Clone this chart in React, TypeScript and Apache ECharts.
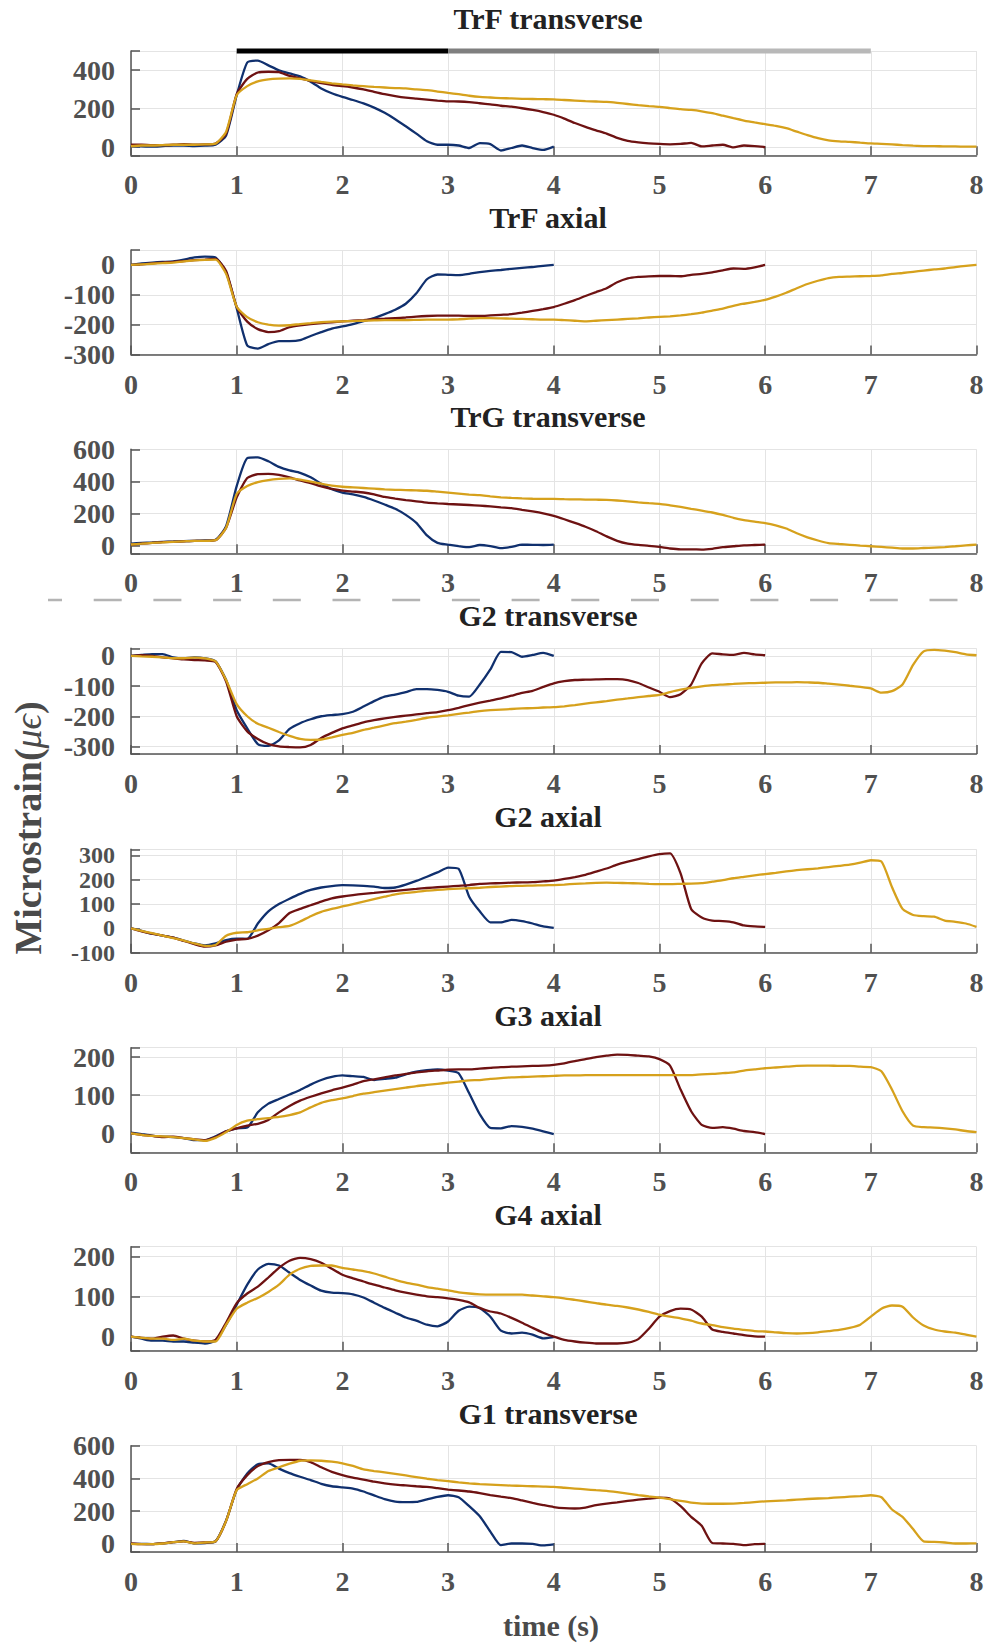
import React, { useEffect, useRef } from "react";
import * as echarts from "echarts";

// ---------- data (sampled every 0.1 s) ----------
const T_STEP = 0.1;

const trfTransBlue = [8, 3, 2, 5, 8, 8, 5, 7, 12, 60, 270, 440, 450, 425, 400, 383, 368, 340, 305, 280, 261, 245, 227, 205, 178, 145, 108, 70, 30, 12, 12, 8, -5, 20, 15, -18, -5, 8, -5, -15, 2];
const trfTransRed = [12, 12, 10, 10, 12, 15, 12, 14, 18, 70, 275, 355, 388, 392, 390, 370, 358, 345, 333, 324, 317, 310, 300, 287, 275, 265, 257, 252, 247, 242, 238, 237, 234, 228, 222, 215, 210, 202, 193, 182, 168, 148, 125, 105, 87, 70, 48, 32, 24, 19, 16, 14, 16, 22, 3, 8, 12, -2, 8, 5, 0];
const trfTransGold = [5, 8, 8, 10, 12, 12, 12, 14, 18, 80, 270, 317, 342, 352, 356, 357, 355, 347, 339, 332, 326, 321, 317, 313, 310, 307, 305, 300, 296, 289, 282, 275, 267, 261, 258, 255, 253, 251, 250, 249, 248, 245, 242, 239, 237, 235, 230, 224, 218, 213, 209, 203, 197, 193, 186, 176, 163, 150, 138, 128, 119, 110, 98, 80, 62, 46, 35, 30, 27, 23, 19, 17, 14, 10, 7, 5, 5, 3, 3, 2, 2];

const trfAxBlue = [0, 5, 8, 10, 12, 18, 25, 28, 25, -25, -145, -270, -280, -265, -255, -255, -252, -238, -225, -213, -206, -198, -188, -178, -165, -150, -130, -95, -48, -32, -33, -34, -30, -24, -20, -17, -13, -10, -7, -3, 0];
const trfAxRed = [0, 2, 5, 8, 10, 13, 16, 18, 20, -20, -140, -190, -215, -225, -222, -208, -202, -198, -195, -192, -189, -187, -185, -182, -180, -178, -176, -173, -171, -170, -170, -170, -171, -171, -169, -167, -165, -160, -154, -148, -141, -130, -118, -104, -91, -78, -58, -45, -40, -38, -37, -37, -38, -33, -30, -25, -18, -12, -13, -8, 0];
const trfAxGold = [0, 2, 4, 6, 8, 12, 15, 17, 18, -30, -140, -175, -192, -200, -203, -202, -198, -195, -192, -190, -189, -188, -187, -186, -185, -185, -185, -184, -183, -183, -183, -182, -180, -178, -178, -179, -180, -181, -182, -183, -183, -185, -187, -189, -187, -185, -183, -181, -179, -176, -174, -172, -169, -165, -160, -153, -146, -137, -130, -124, -117, -106, -93, -78, -64, -53, -44, -40, -39, -38, -37, -35, -30, -27, -23, -19, -15, -12, -7, -3, 0];

const trgBlue = [10, 15, 18, 22, 24, 26, 28, 30, 35, 120, 370, 545, 550, 525, 490, 468, 453, 425, 385, 350, 329, 318, 302, 280, 255, 228, 190, 140, 62, 15, 4, -5, -12, 2, -5, -18, -10, 4, 3, 2, 4];
const trgRed = [5, 10, 15, 20, 22, 25, 28, 28, 32, 110, 300, 420, 445, 447, 440, 425, 405, 388, 368, 352, 342, 336, 330, 318, 302, 292, 283, 275, 267, 262, 258, 255, 252, 248, 243, 237, 232, 222, 212, 200, 184, 163, 140, 116, 88, 56, 28, 10, 2, -3, -10, -20, -25, -25, -27, -22, -12, -6, 0, 2, 4];
const trgGold = [5, 10, 15, 18, 22, 25, 28, 28, 32, 110, 320, 370, 395, 408, 415, 418, 410, 398, 385, 373, 366, 362, 358, 354, 350, 347, 345, 343, 341, 335, 329, 323, 317, 313, 306, 300, 296, 293, 291, 290, 290, 288, 287, 286, 285, 284, 280, 274, 268, 263, 259, 250, 240, 228, 217, 205, 190, 172, 158, 148, 139, 125, 105, 75, 50, 30, 14, 8, 3, -2, -6, -10, -15, -20, -20, -17, -14, -11, -6, 0, 4];

const g2tBlue = [0, 3, 6, 6, -5, -8, -5, -8, -18, -80, -180, -240, -292, -298, -280, -242, -223, -210, -200, -196, -193, -185, -168, -150, -135, -128, -120, -110, -110, -113, -119, -132, -135, -95, -45, 13, 12, -3, 3, 10, 0];
const g2tRed = [0, 2, 0, -5, -8, -12, -14, -15, -20, -85, -200, -250, -275, -292, -300, -302, -303, -295, -272, -255, -240, -230, -220, -213, -207, -202, -198, -194, -190, -186, -180, -172, -163, -155, -148, -141, -132, -123, -116, -103, -91, -84, -80, -79, -78, -77, -77, -80, -90, -105, -119, -137, -127, -95, -25, 8, 5, 3, 10, 5, 2];
const g2tGold = [0, -2, -3, -5, -8, -8, -6, -8, -18, -80, -160, -200, -225, -238, -252, -265, -275, -278, -277, -270, -262, -255, -245, -238, -230, -223, -218, -212, -205, -201, -197, -192, -188, -183, -180, -178, -176, -174, -173, -171, -170, -167, -163, -158, -154, -150, -145, -141, -137, -133, -129, -120, -112, -106, -101, -97, -95, -93, -91, -90, -89, -88, -88, -87, -88, -89, -92, -95, -99, -103, -108, -122, -117, -95, -30, 15, 20, 17, 12, 5, 2];

const g2aBlue = [0, -10, -22, -30, -38, -50, -62, -70, -62, -48, -42, -43, 20, 70, 100, 122, 142, 158, 168, 174, 178, 177, 175, 172, 166, 168, 180, 195, 212, 230, 250, 245, 130, 70, 25, 25, 35, 30, 20, 8, 2];
const g2aRed = [0, -12, -22, -30, -38, -52, -65, -75, -70, -55, -46, -43, -30, -8, 22, 63, 80, 95, 110, 123, 131, 137, 142, 146, 150, 154, 158, 162, 166, 169, 172, 175, 178, 183, 185, 186, 188, 189, 190, 193, 196, 203, 211, 220, 233, 246, 262, 274, 285, 296, 305, 308, 226, 80, 45, 32, 30, 25, 12, 8, 6];
const g2aGold = [0, -10, -20, -30, -40, -50, -62, -72, -68, -30, -18, -16, -8, -2, 5, 10, 28, 50, 68, 80, 90, 100, 110, 120, 130, 140, 146, 150, 155, 158, 161, 163, 165, 167, 170, 172, 174, 175, 176, 177, 178, 180, 183, 185, 187, 188, 187, 186, 185, 183, 182, 182, 183, 184, 186, 192, 198, 206, 212, 218, 223, 228, 234, 239, 243, 247, 252, 257, 262, 270, 280, 275, 170, 80, 55, 50, 48, 32, 27, 20, 6];

const g3aBlue = [2, -2, -6, -9, -10, -13, -18, -18, -8, 5, 13, 15, 55, 78, 90, 102, 114, 128, 140, 148, 152, 150, 148, 140, 143, 146, 155, 162, 166, 168, 165, 158, 105, 50, 14, 13, 19, 17, 12, 5, -2];
const g3aRed = [0, -4, -7, -10, -9, -13, -16, -18, -10, 5, 13, 20, 25, 35, 55, 72, 86, 96, 105, 113, 120, 128, 137, 142, 147, 152, 156, 160, 163, 165, 167, 168, 168, 170, 172, 174, 175, 176, 177, 178, 180, 184, 190, 195, 200, 204, 207, 206, 204, 202, 195, 178, 115, 58, 22, 14, 16, 12, 6, 3, -2];
const g3aGold = [0, -4, -7, -8, -10, -13, -16, -20, -12, 3, 22, 33, 37, 40, 43, 48, 55, 68, 80, 87, 92, 98, 104, 108, 112, 116, 120, 124, 127, 130, 133, 136, 139, 140, 143, 145, 147, 148, 149, 150, 151, 152, 152, 153, 153, 153, 153, 153, 153, 153, 153, 153, 153, 153, 155, 156, 158, 160, 165, 168, 171, 173, 175, 177, 178, 178, 178, 177, 177, 175, 174, 163, 115, 58, 20, 16, 15, 13, 10, 6, 3];

const g4aBlue = [0, -5, -10, -10, -12, -12, -15, -17, -10, 30, 80, 130, 168, 182, 178, 160, 142, 128, 115, 110, 109, 106, 98, 85, 72, 60, 48, 40, 30, 26, 38, 65, 75, 71, 50, 15, 8, 10, 5, -4, -1];
const g4aRed = [0, -3, -5, 0, 3, -5, -10, -12, -8, 35, 84, 108, 125, 148, 172, 190, 197, 194, 185, 170, 155, 146, 138, 130, 123, 116, 110, 105, 101, 99, 96, 92, 86, 72, 63, 58, 47, 35, 22, 10, 0, -8, -12, -15, -17, -17, -17, -15, -6, 20, 50, 64, 70, 68, 50, 18, 12, 8, 4, 1, 0];
const g4aGold = [0, -3, -5, -5, -8, -5, -10, -12, -12, 30, 70, 85, 97, 112, 130, 155, 170, 177, 178, 178, 172, 168, 164, 158, 150, 142, 135, 130, 124, 120, 116, 111, 108, 106, 105, 105, 105, 105, 103, 101, 99, 96, 92, 88, 84, 80, 77, 73, 68, 62, 55, 50, 46, 40, 33, 29, 24, 20, 17, 14, 13, 11, 9, 8, 9, 11, 14, 17, 22, 30, 50, 70, 78, 75, 48, 28, 18, 13, 10, 5, 0];

const g1tBlue = [0, 0, -2, 3, 10, 18, 3, 5, 15, 143, 330, 430, 487, 492, 460, 432, 410, 390, 367, 352, 345, 338, 320, 296, 273, 258, 255, 256, 272, 287, 297, 285, 230, 168, 75, -8, 2, 2, 0, -10, -4];
const g1tRed = [2, -2, -2, 3, 10, 15, 5, 8, 15, 140, 335, 420, 475, 500, 512, 513, 513, 500, 468, 440, 420, 405, 393, 380, 370, 362, 357, 352, 348, 340, 332, 326, 320, 310, 298, 288, 279, 265, 250, 237, 225, 218, 216, 222, 236, 246, 253, 262, 270, 276, 283, 277, 230, 165, 110, 5, 2, 0, -8, -2, 0];
const g1tGold = [0, -2, -2, 2, 10, 15, 3, 8, 15, 140, 328, 365, 400, 445, 468, 490, 508, 510, 508, 502, 492, 476, 455, 445, 437, 428, 418, 408, 398, 390, 383, 376, 370, 365, 362, 359, 356, 354, 352, 350, 348, 343, 338, 333, 328, 324, 316, 307, 298, 290, 283, 273, 262, 252, 246, 245, 245, 246, 250, 255, 260, 263, 266, 270, 274, 277, 280, 284, 288, 292, 297, 285, 210, 165, 90, 15, 12, 8, 2, 2, 3];

const TITLES = ["TrF transverse", "TrF axial", "TrG transverse", "G2 transverse", "G2 axial", "G3 axial", "G4 axial", "G1 transverse"];
const Y_MIN = [-43, -300, -50, -325, -100, -50, -35, -50];
const Y_MAX = [500, 50, 600, 25, 325, 225, 225, 600];
const Y_STEP = [200, 100, 200, 100, 100, 100, 100, 200];
const SERIES_DATA = [
  [trfTransBlue, trfTransRed, trfTransGold],
  [trfAxBlue, trfAxRed, trfAxGold],
  [trgBlue, trgRed, trgGold],
  [g2tBlue, g2tRed, g2tGold],
  [g2aBlue, g2aRed, g2aGold],
  [g3aBlue, g3aRed, g3aGold],
  [g4aBlue, g4aRed, g4aGold],
  [g1tBlue, g1tRed, g1tGold],
];
const PHASE_BOUNDS = [1, 3, 5, 7];
const PHASE_LEVEL = 500;

// ---------- layout / style ----------
const GRID_TOPS = [51, 250, 449.3, 648.3, 849.3, 1047.7, 1246.7, 1445.7];
const GRID_HEIGHTS = [104.3, 104.5, 104, 105.7, 103.4, 104.6, 104, 106.3];
const SPLIT_NUMBERS = [3, 4, 3, 4, 4, 3, 3, 3];
const Y_LABEL_SIZES = [28, 28, 28, 28, 24, 28, 28, 28];
const LINE_COLORS = ["#10306e", "#6e1212", "#d6a11c"];
const PHASE_COLORS = ["#000000", "#7f7f7f", "#b8b8b8"];
const FONT = '"Liberation Serif", "Times New Roman", serif';
const LABEL_COLOR = "#505050";
const AXIS_COLOR = "#555555";
const GRID_COLOR = "#e4e4e4";

const toPts = (vals: number[]) => vals.map((v, i) => [Math.round(i * T_STEP * 10) / 10, v]);

export default function App() {
  const ref = useRef<HTMLDivElement>(null);
  useEffect(() => {
    if (!ref.current) return;
    const chart = echarts.init(ref.current, undefined, { renderer: "svg" });
    const grids: any[] = [];
    const xAxes: any[] = [];
    const yAxes: any[] = [];
    const series: any[] = [];
    const graphics: any[] = [];
    const labelStyle = { fontFamily: FONT, fontWeight: "bold", fontSize: 28, lineHeight: 21, color: LABEL_COLOR };
    TITLES.forEach((title, i) => {
      grids.push({ left: 131, width: 845.5, top: GRID_TOPS[i], height: GRID_HEIGHTS[i], containLabel: false, outerBoundsMode: "none" });
      xAxes.push({
        gridIndex: i, type: "value", min: 0, max: 8, interval: 1,
        axisLine: { show: true, onZero: false, lineStyle: { color: AXIS_COLOR, width: 1.5 } },
        axisTick: { show: true, inside: true, length: 9, lineStyle: { color: AXIS_COLOR, width: 1.5 } },
        axisLabel: { ...labelStyle, margin: 19, showMinLabel: true, showMaxLabel: true, hideOverlap: false },
        splitLine: { show: true, lineStyle: { color: GRID_COLOR, width: 1 } },
      });
      const step = Y_STEP[i];
      yAxes.push({
        gridIndex: i, type: "value", min: Y_MIN[i], max: Y_MAX[i], splitNumber: SPLIT_NUMBERS[i],
        axisLine: { show: true, onZero: false, lineStyle: { color: AXIS_COLOR, width: 1.5 } },
        axisTick: { show: true, inside: true, length: 9, lineStyle: { color: AXIS_COLOR, width: 1.5 } },
        axisLabel: {
          ...labelStyle, fontSize: Y_LABEL_SIZES[i], lineHeight: Math.min(21, Y_LABEL_SIZES[i]),
          margin: 16, showMinLabel: true, showMaxLabel: true, hideOverlap: false,
          formatter: (v: number) => (Math.abs(v % step) < 1e-6 ? String(v) : ""),
        },
        splitLine: { show: true, lineStyle: { color: GRID_COLOR, width: 1 } },
      });
      SERIES_DATA[i].forEach((vals, k) => {
        series.push({
          type: "line", xAxisIndex: i, yAxisIndex: i, data: toPts(vals),
          symbol: "none", showSymbol: false, silent: true, smooth: 0.2,
          lineStyle: { color: LINE_COLORS[k], width: 2.3 }, itemStyle: { color: LINE_COLORS[k] },
        });
      });
      graphics.push({
        type: "text", x: 548, y: GRID_TOPS[i] - 32.5, silent: true,
        style: { text: title, font: `bold 30px ${FONT}`, fill: "#222222", align: "center", verticalAlign: "middle" },
      });
    });
    for (let k = 0; k < PHASE_BOUNDS.length - 1; k++) {
      series.push({
        type: "line", xAxisIndex: 0, yAxisIndex: 0, clip: false, silent: true, symbol: "none", z: 5,
        data: [[PHASE_BOUNDS[k], PHASE_LEVEL], [PHASE_BOUNDS[k + 1], PHASE_LEVEL]],
        lineStyle: { color: PHASE_COLORS[k], width: 5, cap: "butt" },
      });
    }
    graphics.push({
      type: "line", silent: true,
      shape: { x1: 48, y1: 600, x2: 985, y2: 600 },
      style: { stroke: "#b4b4b4", lineWidth: 2.5, lineDash: [28, 31.7], lineDashOffset: 14 },
    });
    graphics.push({
      type: "text", x: 28, y: 828, rotation: Math.PI / 2, silent: true,
      style: {
        text: "{b|Microstrain(}{m|\u03bc\u03f5}{b|)}",
        align: "center", verticalAlign: "middle",
        rich: {
          b: { fontFamily: FONT, fontWeight: "bold", fontSize: 38, fill: "#4a4a4a" },
          m: { fontFamily: FONT, fontStyle: "italic", fontSize: 38, fill: "#4a4a4a" },
        },
      },
    });
    graphics.push({
      type: "text", x: 551, y: 1625, silent: true,
      style: { text: "time (s)", font: `bold 30px ${FONT}`, fill: "#4a4a4a", align: "center", verticalAlign: "middle" },
    });
    chart.setOption({
      animation: false,
      backgroundColor: "#ffffff",
      grid: grids, xAxis: xAxes, yAxis: yAxes, series, graphic: graphics,
    });
    return () => chart.dispose();
  }, []);
  return <div ref={ref} style={{ position: "absolute", left: 0, top: 0, width: 985, height: 1643 }} />;
}
